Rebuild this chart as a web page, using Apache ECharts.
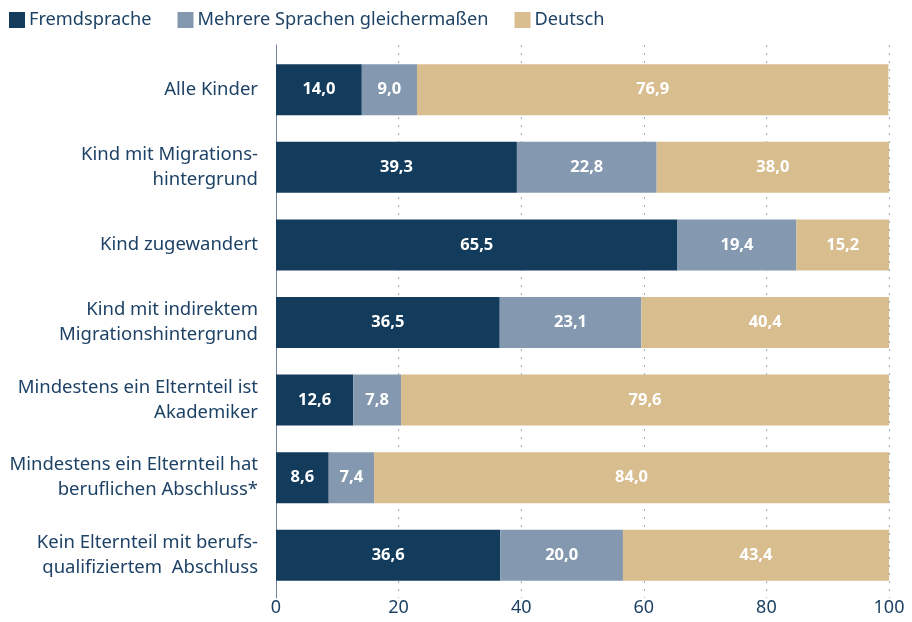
<!DOCTYPE html>
<html>
<head>
<meta charset="utf-8">
<script src="https://cdn.jsdelivr.net/npm/echarts@6/dist/echarts.min.js"></script>
<style>
  html, body { margin: 0; padding: 0; background: #fff; }
  #chart { width: 912px; height: 622px; }
</style>
</head>
<body>
<div id="chart"></div>
<script>
// Kategorien (von oben nach unten)
const categories = [
  'Alle Kinder',
  'Kind mit Migrations-\nhintergrund',
  'Kind zugewandert',
  'Kind mit indirektem\nMigrationshintergrund',
  'Mindestens ein Elternteil ist\nAkademiker',
  'Mindestens ein Elternteil hat\nberuflichen Abschluss*',
  'Kein Elternteil mit berufs-\nqualifiziertem  Abschluss'
];

const fremdsprache = [14.0, 39.3, 65.5, 36.5, 12.6, 8.6, 36.6];
const mehrere      = [9.0, 22.8, 19.4, 23.1, 7.8, 7.4, 20.0];
const deutsch      = [76.9, 38.0, 15.2, 40.4, 79.6, 84.0, 43.4];

const seriesNames = ['Fremdsprache', 'Mehrere Sprachen gleichermaßen', 'Deutsch'];
const COLORS = ['#133b5c', '#8499b0', '#d8bd8f'];

const FONT = '"Noto Sans", "Open Sans", sans-serif';
const TEXT = '#1d4266';

const fmt = (v) => v.toFixed(1).replace('.', ',');

function barSeries(name, data) {
  return {
    name,
    type: 'bar',
    stack: 'total',
    data,
    barWidth: 51,
    label: {
      show: true,
      position: 'inside',
      color: '#fff',
      fontFamily: FONT,
      fontWeight: 'bold',
      fontSize: 16.5,
      formatter: (p) => fmt(p.value),
    },
  };
}

const chart = echarts.init(document.getElementById('chart'), null, { renderer: 'canvas' });

chart.setOption({
  animation: false,
  color: COLORS,
  textStyle: { fontFamily: FONT },
  legend: {
    left: 4,
    top: 6,
    itemWidth: 16,
    itemHeight: 16,
    itemGap: 26,
    icon: 'rect',
    textStyle: { color: TEXT, fontSize: 18.2, fontFamily: FONT, padding: [0, 0, 0, -1] },
    data: seriesNames,
  },
  grid: [
    // Balken
    { left: 276, right: 23, top: 51, bottom: 28, containLabel: false },
    // Gitterlinien und Achsenlinie (etwas höher/tiefer als die Balkenfläche)
    { left: 276, right: 23, top: 45, bottom: 24, containLabel: false },
  ],
  xAxis: [
    {
      type: 'value',
      gridIndex: 0,
      min: 0,
      max: 100,
      interval: 20,
      axisLine: { show: false },
      axisTick: { show: false },
      splitLine: { show: false },
      axisLabel: { color: TEXT, fontSize: 18, fontFamily: FONT, margin: 5 },
    },
    {
      type: 'value',
      gridIndex: 1,
      min: 0,
      max: 100,
      interval: 20,
      axisLine: { show: false },
      axisTick: { show: false },
      axisLabel: { show: false },
      splitLine: { show: true, lineStyle: { color: '#9fb0c2', type: [2, 6], width: 1 } },
    },
  ],
  yAxis: [
    {
      type: 'category',
      gridIndex: 0,
      inverse: true,
      data: categories,
      axisLine: { show: false },
      axisTick: { show: false },
      axisLabel: { color: TEXT, fontSize: 18.5, fontFamily: FONT, lineHeight: 25, margin: 18, align: 'right' },
    },
    {
      type: 'value',
      gridIndex: 1,
      min: 0,
      max: 1,
      axisLine: { show: true, lineStyle: { color: '#6f87a0', width: 1 } },
      axisTick: { show: false },
      axisLabel: { show: false },
      splitLine: { show: false },
    },
  ],
  series: [
    barSeries(seriesNames[0], fremdsprache),
    barSeries(seriesNames[1], mehrere),
    barSeries(seriesNames[2], deutsch),
  ],
});
</script>
</body>
</html>
